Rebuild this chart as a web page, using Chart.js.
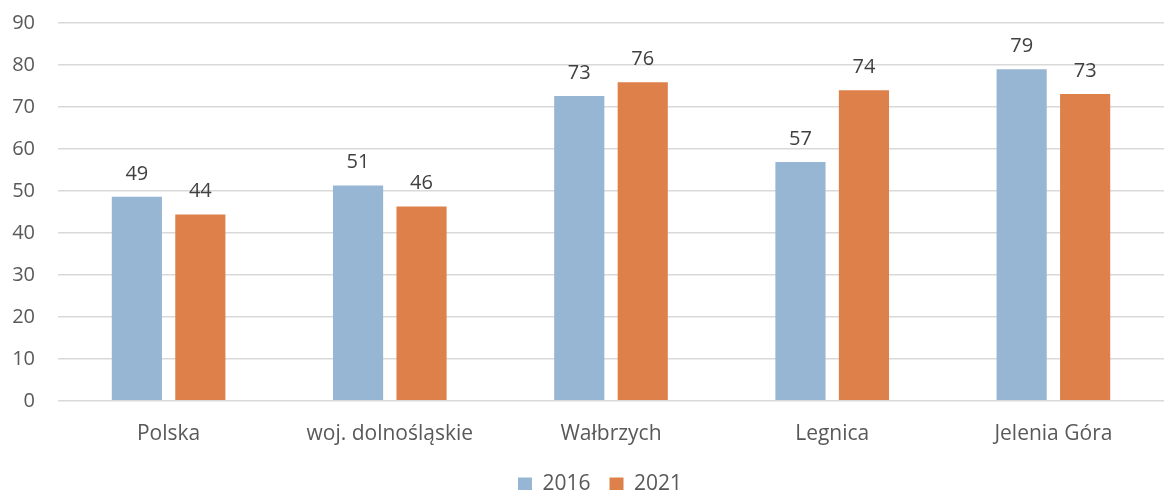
<!DOCTYPE html>
<html>
<head>
<meta charset="utf-8">
<script src="https://cdn.jsdelivr.net/npm/chart.js@4.4.0/dist/chart.umd.min.js"></script>
<style>
  html, body { margin: 0; padding: 0; background: #fff; overflow: hidden; }
  #wrap { position: relative; width: 1164px; height: 505px; }
</style>
</head>
<body>
<div id="wrap"><canvas id="chart"></canvas></div>
<script>
// Chart data
const categories = ['Polska', 'woj. dolnośląskie', 'Wałbrzych', 'Legnica', 'Jelenia Góra'];
const values2016 = [48.6, 51.3, 72.6, 56.9, 79.0];
const values2021 = [44.4, 46.3, 75.9, 74.0, 73.1];
const seriesLabels = ['2016', '2021'];

const FONT = '"Open Sans", sans-serif';

// Simple plugin to draw the value labels above bars
const barValueLabels = {
  id: 'barValueLabels',
  afterDatasetsDraw(chart) {
    const ctx = chart.ctx;
    ctx.save();
    ctx.font = '20px ' + FONT;
    ctx.fillStyle = '#404040';
    ctx.textAlign = 'center';
    ctx.textBaseline = 'alphabetic';
    chart.data.datasets.forEach((ds, i) => {
      const meta = chart.getDatasetMeta(i);
      meta.data.forEach((bar, j) => {
        ctx.fillText(Math.round(ds.data[j]), bar.x, bar.y - 17);
      });
    });
    ctx.restore();
  }
};

// legend sits a little right of the canvas centre in the original
const legendShift = {
  id: 'legendShift',
  afterLayout(chart) {
    chart.legend.left += 12;
    chart.legend.right += 12;
  }
};

const ctx = document.getElementById('chart').getContext('2d');
new Chart(ctx, {
  type: 'bar',
  data: {
    labels: categories,
    datasets: [
      {
        label: seriesLabels[0],
        data: values2016,
        backgroundColor: '#97b6d3',
        categoryPercentage: 0.574,
        barPercentage: 0.79
      },
      {
        label: seriesLabels[1],
        data: values2021,
        backgroundColor: '#dd8049',
        categoryPercentage: 0.574,
        barPercentage: 0.79
      }
    ]
  },
  options: {
    responsive: true,
    maintainAspectRatio: false,
    animation: false,
    layout: {
      padding: { left: 12, right: 0, top: 0, bottom: 0 }
    },
    scales: {
      x: {
        grid: { display: false },
        border: { display: false },
        afterFit(scale) { scale.height -= 5; },
        ticks: {
          color: '#595959',
          font: { family: FONT, size: 21 },
          padding: 13
        }
      },
      y: {
        min: 0,
        max: 90,
        afterFit(scale) {
          scale.width = 46;
          scale.paddingTop = 23;
          scale.paddingBottom = 0;
        },
        ticks: {
          stepSize: 10,
          color: '#595959',
          font: { family: FONT, size: 20 },
          padding: 23
        },
        grid: {
          color: '#d9d9d9',
          lineWidth: 1.5,
          drawTicks: false
        },
        border: { display: false }
      }
    },
    plugins: {
      legend: {
        position: 'bottom',
        labels: {
          color: '#595959',
          font: { family: FONT, size: 21 },
          boxWidth: 14,
          boxHeight: 14,
          padding: 19
        }
      },
      tooltip: { enabled: false }
    }
  },
  plugins: [barValueLabels, legendShift]
});
</script>
</body>
</html>
